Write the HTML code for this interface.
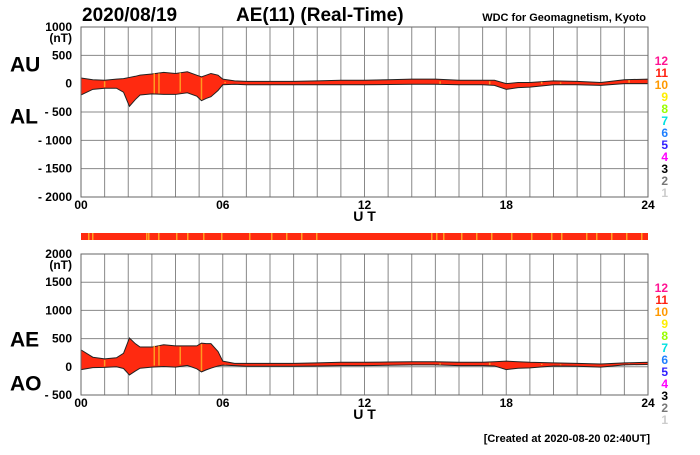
<!DOCTYPE html>
<html><head><meta charset="utf-8"><style>
body{margin:0;background:#fff;width:700px;height:450px;overflow:hidden;font-family:"Liberation Sans",sans-serif}
svg text{font-family:"Liberation Sans",sans-serif;font-weight:bold}
</style></head><body>
<svg id="c" width="700" height="450"></svg>
<script>
const hours=[0,0.5,1,1.5,1.8,2.05,2.3,2.5,3,3.5,4,4.5,4.9,5.1,5.3,5.5,5.8,6,6.5,7,8,9,10,11,12,13,14,15,16,17,17.5,18,18.5,19,20,21,22,23,24];
const auValues=[100,70,60,80,90,110,130,150,170,200,180,210,150,120,150,180,150,80,50,40,40,40,50,60,60,70,80,80,60,60,60,0,20,20,50,40,20,70,80];
const alValues=[-200,-100,-80,-80,-150,-400,-280,-200,-180,-190,-190,-160,-220,-300,-260,-230,-120,-20,-10,-20,-20,-20,-20,-20,-20,-15,-10,-10,-20,-20,-30,-100,-70,-60,-20,-20,-30,0,0];
const topTicks=[1000,500,0,-500,-1000,-1500,-2000];
const botTicks=[2000,1500,1000,500,0,-500];
const xTicks=[0,6,12,18,24];
const legendNums=[12,11,10,9,8,7,6,5,4,3,2,1];
const legendColors=['#ff1493','#ff2010','#ff9900','#ffee00','#99ff00','#00e0e0','#2080ff','#3020ff','#ff00ff','#000','#777','#ccc'];
const NS='http://www.w3.org/2000/svg',svg=document.getElementById('c');
const X0=81,X1=648;
const x=h=>X0+(X1-X0)*h/24;
function mk(t,a,p){const e=document.createElementNS(NS,t);for(const k in a)e.setAttribute(k,a[k]);(p||svg).appendChild(e);return e;}
function txt(s,x0,y0,size,anchor,fill){const e=mk('text',{x:x0,y:y0,'font-size':size,'text-anchor':anchor||'start',fill:fill||'#000'});e.textContent=s;return e;}
function panel(name,yTop,yBot,vmax,vmin,ticks,up,lo,lab1,lab2){
 const y=v=>yTop+(vmax-v)*(yBot-yTop)/(vmax-vmin);
 const g=mk('g',{});
 
 
 for(let h=0;h<=24;h++)mk('line',{x1:x(h),x2:x(h),y1:yTop,y2:yBot,stroke:'#888','stroke-width':1},g);
 ticks.forEach(t=>{mk('line',{x1:X0,x2:X1,y1:y(t),y2:y(t),stroke:'#888','stroke-width':1},g);
  const l=txt(t<0?'- '+(-t):String(t),72,y(t)+4,12,'end');});
 txt('(nT)',72,y(vmax)+15,12,'end');
 let d='M'+hours.map((h,i)=>x(h)+','+y(up[i])).join('L');
 for(let i=hours.length-1;i>=0;i--)d+='L'+x(hours[i])+','+y(lo[i]);
 const a=mk('path',{d:d+'Z',fill:'#ff2a10',stroke:'#222','stroke-width':1},g);
 
 [1,3.1,3.3,4.2,5.1,6.1,15.2,17.3,19.5,20.3,23.2].forEach(h=>{const i=Math.max(1,hours.findIndex(v=>v>=h));
  const yu=y(up[i]),yl=y(lo[i]);mk('line',{x1:x(h),x2:x(h),y1:yu+1,y2:yl-1,stroke:'#ff9a20','stroke-width':1.5},g);});
 mk('rect',{x:X0,y:yTop,width:X1-X0,height:yBot-yTop,fill:'none',stroke:'#666'},g);
 xTicks.forEach(t=>{const l=txt(String(t).padStart(2,'0'),x(t),yBot+12,12,'middle');});
 const ut=txt('U T',x(12),yBot+24,14,'middle');
 const l1=txt(lab1[0],10,y(lab1[1])+8,21);
 const l2=txt(lab2[0],10,y(lab2[1])+8,21);
 legendNums.forEach((n,i)=>{const l=txt(String(n),668,yTop+38+i*12,12,'end',legendColors[i]);});
}
panel('au-al',27,197,1000,-2000,topTicks,auValues,alValues,['AU',360],['AL',-560]);
const ae=auValues.map((u,i)=>u-alValues[i]),ao=auValues.map((u,i)=>(u+alValues[i])/2);
panel('ae-ao',254,395,2000,-500,botTicks,ae,ao,['AE',500],['AO',-280]);
const st=mk('rect',{x:X0,y:233,width:X1-X0,height:7,fill:'#ff2a10'});

[7,11,65,67,77,95,106,122,140,168,190,205,220,235,350,355,362,380,395,410,430,450,470,480,505,515,530,545,560].forEach(p=>mk('rect',{x:X0+p,y:233,width:1.5,height:7,fill:'#ffa020'}));
let t=txt('2020/08/19',82,21,19);
t=txt('AE(11) (Real-Time)',236,21,19);
t=txt('WDC for Geomagnetism, Kyoto',646,21,11,'end');
t=txt('[Created at 2020-08-20 02:40UT]',650,442,11,'end');
</script>
</body></html>
